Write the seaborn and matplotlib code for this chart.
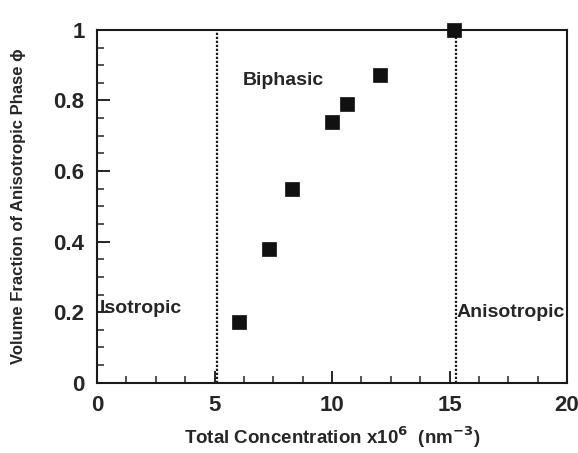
import numpy as np
import pandas as pd
import matplotlib
matplotlib.use("Agg")
import matplotlib.pyplot as plt
from matplotlib.ticker import MultipleLocator
import seaborn as sns

conc = [6.05, 7.3, 8.3, 10.0, 10.65, 12.05, 15.2]
phi = [0.173, 0.378, 0.548, 0.74, 0.79, 0.873, 1.0]
boundaries = [5.1, 15.27]
regions = ["Isotropic", "Biphasic", "Anisotropic"]

df = pd.DataFrame({"conc": conc, "phi": phi})

sns.set_style("ticks")
plt.rcParams['font.family'] = ['Liberation Sans', 'DejaVu Sans']
plt.rcParams['font.weight'] = 'bold'

fig = plt.figure(figsize=(5.78, 4.53), dpi=100)
ax = fig.add_axes([0.168, 0.155, 0.813, 0.779])

sns.scatterplot(data=df, x="conc", y="phi", marker="s", s=95, color="#111111",
                edgecolor="#111111", linewidth=0.5, ax=ax, clip_on=False, zorder=5)

for b in boundaries:
    ax.axvline(b, color="#1a1a1a", linestyle=(0, (1, 0.8)), linewidth=1.6)

ax.text(0.1, 0.21, regions[0], fontsize=14, fontweight="bold", va="center", ha="left")
ax.text(6.2, 0.858, regions[1], fontsize=14, fontweight="bold", va="center", ha="left")
ax.text(15.28, 0.198, regions[2], fontsize=14, fontweight="bold", va="center", ha="left")

ax.set_xlim(0, 20)
ax.set_ylim(0, 1)
ax.xaxis.set_major_locator(MultipleLocator(5))
ax.xaxis.set_minor_locator(MultipleLocator(1.25))
ax.yaxis.set_major_locator(MultipleLocator(0.2))
ax.yaxis.set_minor_locator(MultipleLocator(0.05))
ax.set_yticks([0, 0.2, 0.4, 0.6, 0.8, 1.0])
ax.set_yticklabels(["0", "0.2", "0.4", "0.6", "0.8", "1"])
ax.tick_params(which="major", direction="in", length=9, width=1.4, labelsize=16, pad=9)
ax.tick_params(which="minor", direction="in", length=5, width=1.1)
for lab in ax.get_xticklabels() + ax.get_yticklabels():
    lab.set_fontweight("bold")

for sp in ax.spines.values():
    sp.set_linewidth(1.5)
    sp.set_color("#1a1a1a")

ax.set_xlabel("Total Concentration x10$^{\\mathbf{6}}$  (nm$^{\\mathbf{-3}}$)",
              fontsize=13.5, fontweight="bold", labelpad=6)
ax.set_ylabel("Volume Fraction of Anisotropic Phase \u03d5", fontsize=12,
              fontweight="bold", labelpad=20)

fig.savefig("out.png", dpi=100)
